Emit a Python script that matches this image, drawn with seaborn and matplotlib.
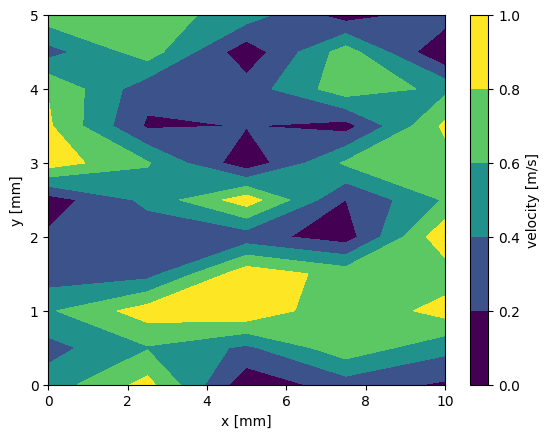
import numpy as np
import seaborn as sns
import matplotlib
matplotlib.use("Agg")
import matplotlib.pyplot as plt

# grid positions [mm]
x_mm = [0.0, 2.5, 5.0, 7.5, 10.0]
y_mm = [0.0, 0.5, 1.0, 1.5, 2.0, 2.5, 3.0, 3.5, 4.0, 4.5, 5.0]

# velocity [m/s], one row per y value (bottom to top)
v_y00 = [0.49, 0.868, 0.06, 0.30, 0.17]
v_y05 = [0.33, 0.584, 0.36, 0.73, 0.464]
v_y10 = [0.573, 0.90, 0.97, 0.62, 0.884]
v_y15 = [0.29, 0.32, 0.93, 0.72, 0.674]
v_y20 = [0.23, 0.27, 0.28, 0.10, 0.96]
v_y25 = [0.10, 0.45, 0.91, 0.198, 0.62]
v_y30 = [0.906, 0.62, 0.064, 0.63, 0.71]
v_y35 = [0.83, 0.17, 0.206, 0.12, 0.84]
v_y40 = [0.79, 0.27, 0.29, 0.72, 0.55]
v_y45 = [0.32, 0.70, 0.07, 0.70, 0.0]
v_y50 = [0.72, 0.70, 0.50, 0.10, 0.31]

levels = [0.0, 0.2, 0.4, 0.6, 0.8, 1.0]

velocity = np.array([v_y00, v_y05, v_y10, v_y15, v_y20, v_y25,
                     v_y30, v_y35, v_y40, v_y45, v_y50])
X, Y = np.meshgrid(x_mm, y_mm)

sns.set_style("ticks")
plt.rcParams.update(plt.rcParamsDefault)

# layer colours at the ends of viridis (first and last layer midpoints)
fig, ax = plt.subplots(figsize=(6.4, 4.8))
cs = ax.contourf(X, Y, velocity, levels=levels, cmap="viridis",
                 vmin=0.1, vmax=0.9)
cbar = fig.colorbar(cs, ax=ax)
cbar.set_label("velocity [m/s]")
ax.set_xlabel("x [mm]")
ax.set_ylabel("y [mm]")

fig.savefig("out.png", dpi=100, bbox_inches="tight")
